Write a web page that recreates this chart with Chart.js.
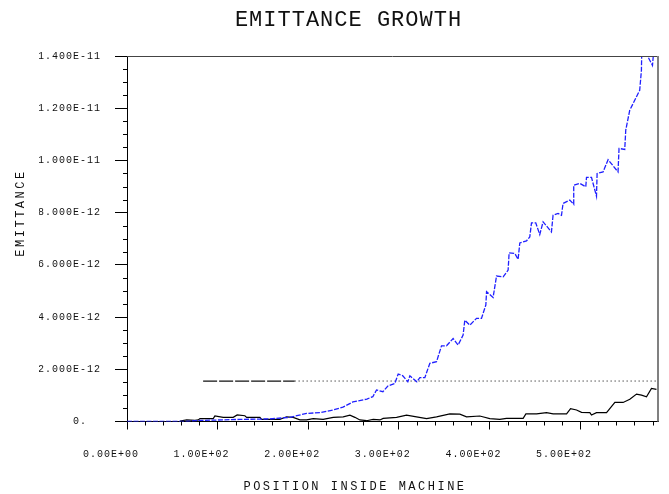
<!DOCTYPE html>
<html>
<head>
<meta charset="utf-8">
<script src="https://cdn.jsdelivr.net/npm/chart.js@4"></script>
<style>
  html, body { margin: 0; background: #fff; }
</style>
</head>
<body>
<canvas id="chart" width="669" height="494"></canvas>
<script>
// emittance values are in units of 1e-12
const growthPos = [0, 64.0, 80.5, 124.7, 157.7, 179.8, 198.2, 212.9, 227.2, 238.3, 249.3, 264.7, 271.3,
  275.4, 282.4, 287.9, 295.6, 299.3, 304.4, 309.9, 312.2, 319.9, 323.2, 328.7, 334.2, 341.6, 347.1,
  352.6, 359.9, 365.4, 370.9, 372.8, 378.3, 385.7, 391.2, 396.0, 396.8, 404.0, 407.8, 415.1, 420.6,
  421.7, 428.0, 431.6, 433.5, 440.9, 444.5, 446.4, 451.1, 455.5, 459.2, 468.4, 470.2, 475.7, 479.5,
  481.2, 488.6, 493.0, 493.0, 499.7, 506.3, 507.1, 512.6, 518.1, 518.8, 525.4, 530.9, 541.9, 543.0,
  549.3, 550.4, 554.8, 565.8, 567.7, 568.1, 571.4, 579.9, 581.3];
const growthEmit = [0, 0, 0.04, 0.08, 0.10, 0.16, 0.31, 0.34, 0.44, 0.55, 0.75, 0.86, 0.95,
  1.21, 1.14, 1.36, 1.46, 1.82, 1.75, 1.52, 1.75, 1.52, 1.68, 1.68, 2.23, 2.29, 2.90,
  2.90, 3.18, 2.93, 3.31, 3.88, 3.69, 3.95, 3.95, 4.46, 4.97, 4.75, 5.57, 5.54, 5.80,
  6.46, 6.44, 6.21, 6.84, 6.92, 7.07, 7.61, 7.61, 7.16, 7.65, 7.26, 7.90, 7.97, 7.90,
  8.35, 8.48, 8.32, 9.05, 9.12, 8.99, 9.35, 9.35, 8.63, 9.50, 9.56, 10.03, 9.56, 10.46,
  10.42, 11.16, 11.92, 12.69, 13.45, 14.22, 14.20, 13.64, 14.20];

const basePos = [58.5, 65.9, 75.0, 78.7, 80.5, 95.2, 97.0, 106.2, 117.2, 121.6, 130.1, 132.0,
  146.7, 148.5, 168.7, 176.1, 183.4, 190.8, 198.2, 205.5, 216.5, 227.6, 238.6, 246.0, 251.5, 257.0,
  264.4, 271.7, 279.1, 282.7, 297.5, 308.5, 319.5, 330.6, 341.6, 356.3, 367.3, 374.7, 389.4, 400.4,
  411.4, 418.8, 437.2, 440.2, 452.0, 463.0, 470.3, 485.1, 489.5, 496.1, 501.6, 510.8, 512.6, 518.1,
  529.2, 538.4, 547.5, 554.9, 562.3, 567.8, 573.3, 578.8, 584.3];
const baseEmit = [0.02, 0.06, 0.04, 0.06, 0.11, 0.11, 0.21, 0.16, 0.16, 0.25, 0.22, 0.16,
  0.16, 0.08, 0.08, 0.18, 0.16, 0.06, 0.06, 0.11, 0.08, 0.16, 0.18, 0.24, 0.16, 0.06,
  0.03, 0.08, 0.06, 0.12, 0.16, 0.24, 0.18, 0.11, 0.18, 0.29, 0.28, 0.18, 0.21, 0.11,
  0.08, 0.12, 0.12, 0.29, 0.29, 0.34, 0.29, 0.29, 0.49, 0.44, 0.35, 0.34, 0.25, 0.34,
  0.34, 0.73, 0.73, 0.85, 1.05, 1.01, 0.95, 1.27, 1.23];

const limitLevel = 1.55;
const limitDashPos = [84, 185];
const limitDotPos = [185, 586];

const xMax = 586;
const yMax = 14;
const xStep = 100;
const yStep = 2;

function sci(v, digits) {
  return v.toExponential(digits).toUpperCase().replace(/E([+-])(\d)$/, "E$10$2");
}

function points(xs, ys) {
  return xs.map((x, i) => ({ x: x, y: ys[i] }));
}

const frame = {
  id: "frame",
  beforeUpdate(chart) { chart.ctx.letterSpacing = "1px"; },
  beforeDraw(chart) { chart.ctx.letterSpacing = "1px"; },
  afterDraw(chart) {
    const ctx = chart.ctx;
    const a = chart.chartArea;
    const x = chart.scales.x;
    const y = chart.scales.y;
    ctx.save();
    ctx.strokeStyle = "#000";
    ctx.lineWidth = 1;
    ctx.beginPath();
    // minor ticks
    for (let v = 20; v < xMax; v += 20) {
      if (v % xStep === 0) continue;
      const px = Math.round(x.getPixelForValue(v)) + 0.5;
      ctx.moveTo(px, a.bottom);
      ctx.lineTo(px, a.bottom + 4);
    }
    for (let v = 0.5; v < yMax; v += 0.5) {
      if (v % yStep === 0) continue;
      const py = Math.round(y.getPixelForValue(v)) + 0.5;
      ctx.moveTo(a.left - 4, py);
      ctx.lineTo(a.left, py);
    }
    ctx.stroke();

    ctx.strokeStyle = "#444";
    ctx.beginPath();
    ctx.moveTo(a.left, Math.round(a.top) + 0.5);
    ctx.lineTo(a.right, Math.round(a.top) + 0.5);
    ctx.stroke();
    ctx.strokeStyle = "#808080";
    ctx.lineWidth = 2;
    ctx.beginPath();
    ctx.moveTo(a.right, a.top);
    ctx.lineTo(a.right, a.bottom);
    ctx.stroke();

    // axis titles
    ctx.fillStyle = "#111";
    ctx.font = '12px "Liberation Mono"';
    ctx.letterSpacing = "2.5px";
    ctx.textAlign = "center";
    ctx.textBaseline = "middle";
    ctx.fillText("POSITION INSIDE MACHINE", 355, 487);
    ctx.translate(21, 213);
    ctx.rotate(-Math.PI / 2);
    ctx.fillText("EMITTANCE", 0, 0);
    ctx.restore();
  }
};

new Chart(document.getElementById("chart"), {
  type: "line",
  data: {
    datasets: [
      {
        data: points(growthPos, growthEmit),
        borderColor: "rgb(32,32,255)",
        borderWidth: 1.3,
        borderDash: [5, 1.5],
        pointRadius: 0,
        order: 1
      },
      {
        data: points(basePos, baseEmit),
        borderColor: "#000",
        borderWidth: 1.2,
        pointRadius: 0,
        order: 2
      },
      {
        data: points(limitDashPos, [limitLevel, limitLevel]),
        borderColor: "#111",
        borderWidth: 1.2,
        borderDash: [14, 2],
        pointRadius: 0,
        order: 3
      },
      {
        data: points(limitDotPos, [limitLevel, limitLevel]),
        borderColor: "#000",
        borderWidth: 1,
        borderDash: [1, 3],
        pointRadius: 0,
        order: 3
      }
    ]
  },
  options: {
    responsive: false,
    animation: false,
    layout: { padding: { left: 39, right: 11, top: 0, bottom: 0 } },
    plugins: {
      legend: { display: false },
      tooltip: { enabled: false },
      title: {
        display: true,
        text: "EMITTANCE GROWTH",
        color: "#111",
        font: { family: "Liberation Mono", size: 22, weight: "normal" },
        padding: { top: 7, bottom: 22.6 }
      }
    },
    scales: {
      x: {
        type: "linear",
        min: 0,
        max: xMax,
        afterFit(scale) { scale.height = 72.5; },
        border: { display: true, color: "#000", width: 1 },
        grid: { drawOnChartArea: false, tickLength: 8, color: "#000" },
        ticks: {
          stepSize: xStep,
          includeBounds: false,
          maxRotation: 0,
          autoSkip: false,
          padding: 19,
          labelOffset: -16,
          color: "#111",
          font: { family: "Liberation Mono", size: 10 },
          callback: (v) => sci(v, 2)
        }
      },
      y: {
        min: 0,
        max: yMax,
        afterFit(scale) { scale.width = 88; },
        border: { display: true, color: "#000", width: 1 },
        grid: { drawOnChartArea: false, tickLength: 12, color: "#000" },
        ticks: {
          stepSize: yStep,
          padding: 14,
          color: "#111",
          font: { family: "Liberation Mono", size: 10 },
          callback: (v) => (v === 0 ? "0.  " : sci(v * 1e-12, 3))
        }
      }
    }
  },
  plugins: [frame]
});
</script>
</body>
</html>
